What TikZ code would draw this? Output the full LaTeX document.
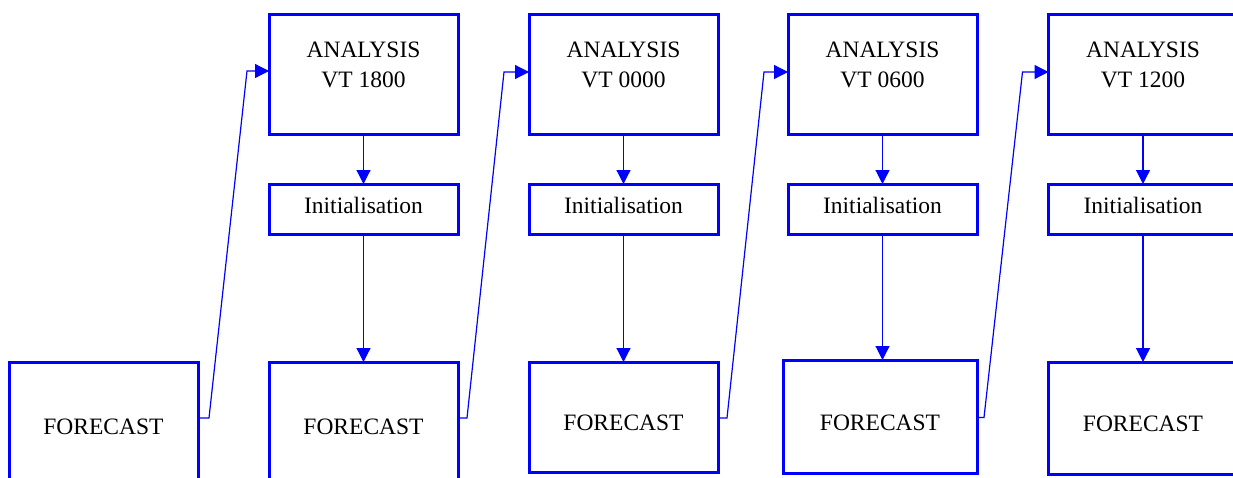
\documentclass[tikz,border=0pt]{standalone}
\usepackage{fontspec}
\setmainfont{Liberation Serif}
\usetikzlibrary{positioning,calc,arrows.meta}

\begin{document}
\begin{tikzpicture}[x=1pt,y=-1pt,
    box/.style={draw=blue,line width=3pt,minimum width=189pt,inner sep=0pt,outer sep=0pt},
    anabox/.style={box,minimum height=120pt},
    initbox/.style={box,minimum height=50pt},
    fcbox/.style={box,minimum height=110pt},
    txt/.style={font=\fontsize{23.5}{30}\selectfont,align=center,text=black},
    link/.style={draw=blue,line width=1.2pt,-{Triangle[length=14pt,width=14pt]}}]
    \useasboundingbox (0,0) rectangle (1233,477);
    \clip (0,0) rectangle (1233,477);

    % Analyses
    \node[anabox,label={[txt,yshift=9pt]center:{ANALYSIS\\VT 1800}}] (A1) at (363.5,74) {};
    \node[anabox,label={[txt,yshift=9pt]center:{ANALYSIS\\VT 0000}}] (A2) at (623.5,74) {};
    \node[anabox,label={[txt,yshift=9pt]center:{ANALYSIS\\VT 0600}}] (A3) at (882.5,74) {};
    \node[anabox,label={[txt,yshift=9pt]center:{ANALYSIS\\VT 1200}}] (A4) at (1143,74) {};

    % Initialisation
    \node[initbox,below=50pt of A1,label={[txt,yshift=4pt]center:Initialisation}] (I1) {};
    \node[initbox,below=50pt of A2,label={[txt,yshift=4pt]center:Initialisation}] (I2) {};
    \node[initbox,below=50pt of A3,label={[txt,yshift=4pt]center:Initialisation}] (I3) {};
    \node[initbox,below=50pt of A4,label={[txt,yshift=4pt]center:Initialisation}] (I4) {};

    % Forecasts
    \node[fcbox,minimum height=118pt,label={[txt,yshift=-6pt]center:FORECAST}] (F0) at (103.5,421) {};
    \node[fcbox,minimum height=118pt,label={[txt,yshift=-6pt]center:FORECAST}] (F1) at (363.5,421) {};
    \node[fcbox,label={[txt,yshift=-6pt]center:FORECAST}] (F2) at (623.5,417) {};
    \node[fcbox,minimum width=194pt,minimum height=113pt,label={[txt,yshift=-6pt]center:FORECAST}] (F3) at (880,416.5) {};
    \node[fcbox,minimum height=112pt,label={[txt,yshift=-6pt]center:FORECAST}] (F4) at (1143,418) {};

    % Analysis -> initialisation -> forecast
    \draw[link] (A1.south) -- (I1.north);
    \draw[link] (A2.south) -- (I2.north);
    \draw[link] (A3.south) -- (I3.north);
    \draw[link] (A4.south) -- (I4.north);
    \draw[link] (I1.south) -- (F1.north);
    \draw[link] (I2.south) -- (F2.north);
    \draw[link] (I3.south) -- (I3.south |- F3.north);
    \draw[link] (I4.south) -- (F4.north);

    % Forecast -> next analysis
    \coordinate (s0) at ($(F0.north east)+(0,56)$);
    \coordinate (s1) at ($(F1.north east)+(0,56)$);
    \coordinate (s2) at ($(F2.north east)+(0,56)$);
    \coordinate (s3) at ($(F3.north east)+(0,57.5)$);
    \coordinate (t1) at ($(A1.north west)+(0,57)$);
    \coordinate (t2) at ($(A2.north west)+(0,58)$);
    \coordinate (t3) at ($(A3.north west)+(0,58)$);
    \coordinate (t4) at ($(A4.north west)+(0,58)$);
    \draw[link] (s0) -- ++(11,0) -- ($(t1)+(-22,0)$) -- (t1);
    \draw[link] (s1) -- ++(9,0) -- ($(t2)+(-25,0)$) -- (t2);
    \draw[link] (s2) -- ++(9,0) -- ($(t3)+(-24,0)$) -- (t3);
    \draw[link] (s3) -- ++(7,0) -- ($(t4)+(-26,0)$) -- (t4);
\end{tikzpicture}
\end{document}
